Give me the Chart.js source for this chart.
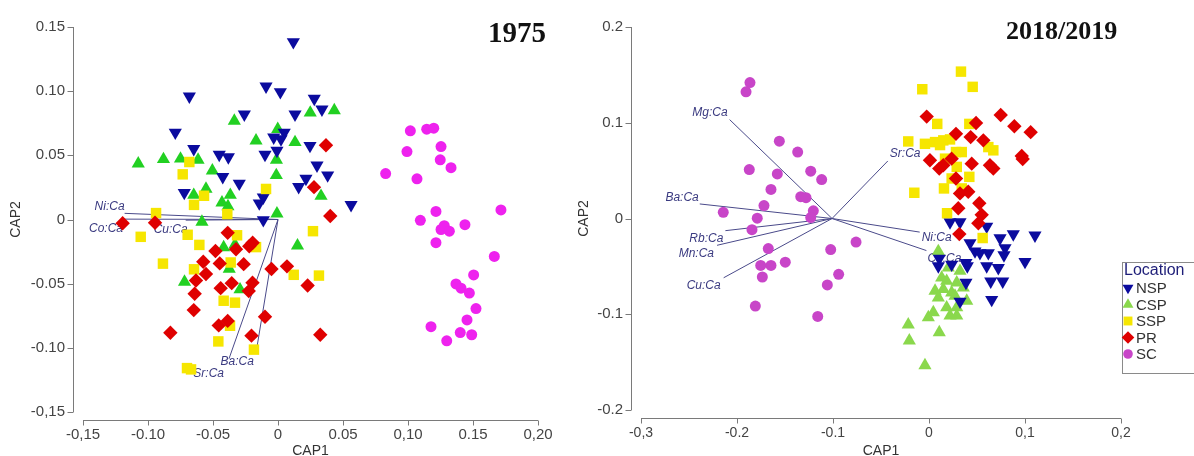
<!DOCTYPE html>
<html><head><meta charset="utf-8">
<script src="https://cdn.jsdelivr.net/npm/chart.js@4.4.1/dist/chart.umd.min.js"></script>
<style>
html,body{margin:0;padding:0;background:#fff;width:1194px;height:456px;overflow:hidden;position:relative;font-family:"Liberation Sans",Arial,sans-serif}
#c1{position:absolute;left:0;top:0}
#c2{position:absolute;left:570px;top:0}
.ttl{position:absolute;font-family:"Liberation Serif","Times New Roman",serif;font-weight:bold;color:#111;line-height:1;white-space:nowrap}
</style>
</head><body>
<canvas id="c1" width="570" height="456"></canvas>
<canvas id="c2" width="624" height="456"></canvas>
<div class="ttl" style="left:488px;top:18px;font-size:29px">1975</div>
<div class="ttl" style="left:1006px;top:18px;font-size:26px">2018/2019</div>
<script>
// ---------- DATA ----------
const seriesNames = ['NSP', 'CSP', 'SSP', 'PR', 'SC'];

const leftXTicks = [-0.15, -0.10, -0.05, 0, 0.05, 0.10, 0.15, 0.20];
const leftXTickLabels = ['-0,15', '-0.10', '-0.05', '0', '0.05', '0,10', '0.15', '0,20'];
const leftYTicks = [-0.15, -0.10, -0.05, 0, 0.05, 0.10, 0.15];
const leftYTickLabels = ['-0,15', '-0.10', '-0.05', '0', '0.05', '0.10', '0.15'];

const rightXTicks = [-0.3, -0.2, -0.1, 0, 0.1, 0.2];
const rightXTickLabels = ['-0,3', '-0.2', '-0.1', '0', '0,1', '0,2'];
const rightYTicks = [-0.2, -0.1, 0, 0.1, 0.2];
const rightYTickLabels = ['-0.2', '-0.1', '0', '0.1', '0.2'];

const leftNSP = [[0.0118,0.1383],[-0.0092,0.1037],[0.0018,0.0994],[-0.0682,0.0960],[0.0279,0.0942],[0.0338,0.0858],[-0.0259,0.0819],[0.0131,0.0819],[-0.0790,0.0678],[0.0048,0.0678],[-0.0033,0.0640],[0.0023,0.0627],[-0.0648,0.0550],[-0.0452,0.0506],[-0.0382,0.0486],[-0.0100,0.0506],[-0.0008,0.0537],[0.0246,0.0575],[0.0300,0.0422],[0.0382,0.0345],[0.0215,0.0319],[0.0159,0.0255],[-0.0425,0.0332],[-0.0298,0.0281],[-0.0721,0.0209],[-0.0144,0.0127],[-0.0113,0.0173],[0.0562,0.0114],[-0.0113,-0.0004]];
const leftCSP = [[0.0433,0.0850],[0.0248,0.0832],[-0.0336,0.0768],[-0.0002,0.0704],[-0.0169,0.0614],[0.0131,0.0602],[-0.0881,0.0469],[-0.0750,0.0473],[-0.0615,0.0465],[-0.1075,0.0435],[-0.0505,0.0381],[-0.0012,0.0465],[-0.0013,0.0345],[-0.0554,0.0238],[-0.0648,0.0191],[-0.0367,0.0191],[-0.0431,0.0131],[-0.0385,0.0102],[0.0331,0.0183],[-0.0008,0.0046],[-0.0585,-0.0019],[0.0150,-0.0204],[-0.0418,-0.0217],[-0.0331,-0.0196],[-0.0375,-0.0385],[-0.0719,-0.0486],[-0.0292,-0.0546]];
const leftSSP = [[-0.0682,0.0448],[-0.0733,0.0352],[-0.0569,0.0185],[-0.0646,0.0114],[-0.0092,0.0238],[-0.0938,0.0050],[-0.0390,0.0042],[-0.1056,-0.0135],[-0.0695,-0.0119],[-0.0605,-0.0198],[-0.0315,-0.0123],[-0.0169,-0.0215],[-0.0885,-0.0344],[-0.0646,-0.0388],[-0.0364,-0.0335],[-0.0418,-0.0633],[-0.0331,-0.0648],[-0.0369,-0.0828],[-0.0459,-0.0950],[-0.0185,-0.1014],[-0.0700,-0.1158],[-0.0669,-0.1168],[0.0121,-0.0431],[0.0315,-0.0437],[0.0269,-0.0091]];
const leftPR = [[-0.1195,-0.0029],[-0.0946,-0.0025],[-0.0387,-0.0104],[-0.0481,-0.0245],[-0.0323,-0.0232],[-0.0221,-0.0209],[-0.0195,-0.0181],[-0.0575,-0.0329],[-0.0448,-0.0342],[-0.0264,-0.0348],[-0.0554,-0.0425],[-0.0631,-0.0475],[-0.0050,-0.0386],[0.0069,-0.0365],[-0.0441,-0.0535],[-0.0356,-0.0496],[-0.0196,-0.0492],[-0.0225,-0.0558],[-0.0641,-0.0578],[-0.0648,-0.0706],[-0.0456,-0.0825],[-0.0387,-0.0790],[-0.0828,-0.0883],[-0.0100,-0.0758],[-0.0204,-0.0905],[0.0228,-0.0514],[0.0402,0.0027],[0.0325,-0.0898],[0.0277,0.0252],[0.0369,0.0579]];
const leftSC = [[0.1018,0.0691],[0.1144,0.0704],[0.1198,0.0712],[0.0992,0.0529],[0.1254,0.0568],[0.1248,0.0465],[0.1331,0.0404],[0.0828,0.0358],[0.1069,0.0317],[0.1215,0.0063],[0.1095,-0.0006],[0.1438,-0.0040],[0.1715,0.0075],[0.1254,-0.0078],[0.1279,-0.0048],[0.1318,-0.0091],[0.1215,-0.0181],[0.1664,-0.0288],[0.1505,-0.0432],[0.1369,-0.0502],[0.1408,-0.0535],[0.1472,-0.0573],[0.1523,-0.0694],[0.1454,-0.0783],[0.1177,-0.0835],[0.1402,-0.0881],[0.1490,-0.0898],[0.1298,-0.0945]];

const rightNSP = [[0.0219,-0.0038],[0.0323,-0.0038],[0.0601,-0.0083],[0.0878,-0.0163],[0.1104,-0.0176],[0.0740,-0.0204],[0.0792,-0.0308],[0.0427,-0.0256],[0.0479,-0.0342],[0.0531,-0.0360],[0.0618,-0.0360],[0.0781,-0.0383],[0.1000,-0.0451],[0.0107,-0.0418],[0.0097,-0.0497],[0.0236,-0.0480],[0.0385,-0.0463],[0.0399,-0.0497],[0.0601,-0.0497],[0.0722,-0.0515],[0.0385,-0.0670],[0.0643,-0.0656],[0.0768,-0.0656],[0.0323,-0.0867],[0.0653,-0.0848]];
const rightCSP = [[0.0097,-0.0342],[0.0201,-0.0515],[0.0132,-0.0619],[0.0184,-0.0653],[0.0149,-0.0739],[0.0289,-0.0670],[0.0357,-0.0722],[0.0063,-0.0756],[0.0097,-0.0826],[0.0236,-0.0774],[0.0393,-0.0860],[0.0184,-0.0930],[0.0289,-0.0930],[0.0045,-0.0981],[-0.0007,-0.1033],[0.0219,-0.1016],[0.0289,-0.1016],[-0.0216,-0.1109],[0.0107,-0.1189],[-0.0205,-0.1275],[-0.0042,-0.1534],[0.0323,-0.0549],[0.0271,-0.0808]];
const rightSSP = [[0.0333,0.1534],[0.0455,0.1375],[-0.0070,0.1350],[0.0086,0.0988],[0.0420,0.0988],[-0.0216,0.0805],[-0.0042,0.0780],[0.0063,0.0798],[0.0149,0.0816],[0.0219,0.0826],[0.0341,0.0694],[0.0618,0.0746],[0.0670,0.0712],[0.0167,0.0625],[0.0289,0.0539],[0.0420,0.0435],[0.0236,0.0418],[0.0156,0.0314],[0.0341,0.0314],[-0.0153,0.0269],[0.0188,0.0055],[0.0559,-0.0204],[0.0115,0.0767],[0.0281,0.0694]];
const rightPR = [[-0.0024,0.1064],[0.0747,0.1081],[0.0889,0.0964],[0.1059,0.0902],[0.0490,0.0998],[0.0281,0.0884],[0.0434,0.0850],[0.0566,0.0816],[0.0010,0.0608],[0.0236,0.0625],[0.0445,0.0573],[0.0107,0.0521],[0.0149,0.0556],[0.0635,0.0556],[0.0670,0.0521],[0.0966,0.0653],[0.0976,0.0622],[0.0281,0.0418],[0.0323,0.0262],[0.0409,0.0280],[0.0524,0.0159],[0.0305,0.0107],[0.0549,0.0038],[0.0514,-0.0049],[0.0316,-0.0163]];
const rightSC = [[-0.1865,0.1420],[-0.1906,0.1323],[-0.1559,0.0808],[-0.1368,0.0694],[-0.1872,0.0511],[-0.1580,0.0466],[-0.1232,0.0494],[-0.1118,0.0407],[-0.1646,0.0304],[-0.1336,0.0228],[-0.1281,0.0218],[-0.1719,0.0135],[-0.2143,0.0065],[-0.1789,0.0003],[-0.1205,0.0080],[-0.1232,0.0010],[-0.1844,-0.0117],[-0.0760,-0.0246],[-0.1674,-0.0314],[-0.1024,-0.0324],[-0.1753,-0.0490],[-0.1646,-0.0490],[-0.1497,-0.0456],[-0.1736,-0.0611],[-0.0941,-0.0583],[-0.1059,-0.0694],[-0.1809,-0.0915],[-0.1159,-0.1023]];

const leftVectorOrigin = [0, 0];
const leftVectorNames = ['Ni:Ca', 'Co:Ca', 'Cu:Ca', 'Ba:Ca', 'Sr:Ca'];
const leftVectorEnds = [[-0.118,0.0048],[-0.120,0.0003],[-0.071,-0.0005],[-0.017,-0.1045],[-0.0377,-0.1085]];

const rightVectorOrigin = [-0.101, 0];
const rightVectorNames = ['Mg:Ca', 'Ba:Ca', 'Rb:Ca', 'Mn:Ca', 'Cu:Ca', 'Sr:Ca', 'Ni:Ca', 'Co:Ca'];
const rightVectorEnds = [[-0.2077,0.1033],[-0.2388,0.0152],[-0.2121,-0.0127],[-0.2208,-0.0280],[-0.2139,-0.0619],[-0.0429,0.0601],[-0.0097,-0.0142],[-0.0027,-0.0335]];

// ---------- STYLE ----------
const leftLabelPlacement = [['right',0,-7],['right',1,10],['right',2,10],['right',-2,8],['right',-5,15]];
const rightLabelPlacement = [['right',-2,-7],['right',-1,-6],['right',-2,8],['right',-3,8],['right',-3,8],['left',2,-7],['left',2,6],['left',1,8]];

const styleNSP = {pointStyle:'triangle', rotation:180, radius:7.6, color:'#0b0b9e'};
const styleSSP = {pointStyle:'rect', rotation:0, radius:7.4, color:'#f6e600'};
const stylePR  = {pointStyle:'rectRot', rotation:0, radius:7.2, color:'#df0000'};
const leftStyleCSP  = {pointStyle:'triangle', rotation:0, radius:7.6, color:'#22d022'};
const rightStyleCSP = {pointStyle:'triangle', rotation:0, radius:7.6, color:'#8ad84c'};
const leftStyleSC  = {pointStyle:'circle', rotation:0, radius:5.5, color:'#ee22ee'};
const rightStyleSC = {pointStyle:'circle', rotation:0, radius:5.5, color:'#c845c8'};
const vectorColor = '#4a4a8a';
const vectorLabelColor = '#3a3a80';
const axisColor = '#7a7a7a';
const tickColor = '#444';
const FONT = '"Liberation Sans", Arial, sans-serif';

// draw order: higher "order" drawn first (underneath)
const drawOrder = {NSP:3, CSP:4, SSP:2, PR:1, SC:5};

function pts(a){ return a.map(p => ({x:p[0], y:p[1]})); }

function seriesDataset(name, data, st){
  return {
    label: name, data: pts(data), order: drawOrder[name],
    pointStyle: st.pointStyle, pointRotation: st.rotation, pointRadius: st.radius,
    pointHoverRadius: st.radius, pointBackgroundColor: st.color, pointBorderColor: st.color,
    pointBorderWidth: 0, showLine: false
  };
}

function vectorDatasets(origin, names, ends){
  return names.map((n, i) => ({
    label: n, data: pts([origin, ends[i]]), showLine: true, pointRadius: 0,
    borderColor: vectorColor, borderWidth: 1, order: 10, fill: false
  }));
}

function makePlugins(names, ends, placement, yGap, xGap){
  return [{
    id: 'offsetAxesAndLabels',
    beforeDatasetsDraw(chart){
      const {ctx, chartArea, scales:{x, y}} = chart;
      ctx.save();
      ctx.strokeStyle = axisColor; ctx.lineWidth = 1;
      ctx.beginPath();
      const ax = Math.round(chartArea.left - yGap) + 0.5;
      ctx.moveTo(ax, y.getPixelForValue(y.min)); ctx.lineTo(ax, y.getPixelForValue(y.max));
      y.ticks.forEach(t => { const py = Math.round(y.getPixelForValue(t.value)) + 0.5; ctx.moveTo(ax - 6, py); ctx.lineTo(ax, py); });
      const ay = Math.round(chartArea.bottom + xGap) + 0.5;
      ctx.moveTo(x.getPixelForValue(x.min), ay); ctx.lineTo(x.getPixelForValue(x.max), ay);
      x.ticks.forEach(t => { const px = Math.round(x.getPixelForValue(t.value)) + 0.5; ctx.moveTo(px, ay); ctx.lineTo(px, ay + 5); });
      ctx.stroke();
      // vector labels
      ctx.font = 'italic 12px ' + FONT;
      ctx.fillStyle = vectorLabelColor;
      ctx.textBaseline = 'middle';
      names.forEach((n, i) => {
        const pl = placement[i];
        ctx.textAlign = pl[0];
        ctx.fillText(n, x.getPixelForValue(ends[i][0]) + pl[1], y.getPixelForValue(ends[i][1]) + pl[2]);
      });
      ctx.restore();
    }
  }];
}

function scaleCfg(min, max, ticks, labels, fit, isX, fontSize, pad, titleText, titlePad){
  return {
    type: 'linear', min, max,
    afterFit: s => { if (isX) s.height = fit; else s.width = fit; },
    afterBuildTicks: s => { s.ticks = ticks.map(v => ({value: v})); },
    ticks: { callback: (v, i) => labels[i], padding: pad, color: tickColor, font: {family: FONT, size: fontSize}, maxRotation: 0, autoSkip: false },
    grid: { display: false, drawTicks: false },
    border: { display: false },
    title: { display: true, text: titleText, color: '#333', font: {family: FONT, size: 14, lineHeight: 1}, padding: titlePad }
  };
}

// ---------- LEFT (1975) ----------
new Chart(document.getElementById('c1'), {
  type: 'scatter',
  data: { datasets: [
    seriesDataset('NSP', leftNSP, styleNSP),
    seriesDataset('CSP', leftCSP, leftStyleCSP),
    seriesDataset('SSP', leftSSP, styleSSP),
    seriesDataset('PR', leftPR, stylePR),
    seriesDataset('SC', leftSC, leftStyleSC),
    ...vectorDatasets(leftVectorOrigin, leftVectorNames, leftVectorEnds)
  ]},
  options: {
    responsive: false, animation: false, devicePixelRatio: 1,
    layout: { padding: {left: 0, top: 22, right: 32, bottom: 0} },
    plugins: { legend: {display: false}, tooltip: {enabled: false} },
    scales: {
      x: scaleCfg(-0.15, 0.20, leftXTicks, leftXTickLabels, 44, true, 15, 14, 'CAP1', {top: 0, bottom: -2}),
      y: scaleCfg(-0.15, 0.15, leftYTicks, leftYTickLabels, 83, false, 15, 18, 'CAP2', {top: 9, bottom: 0})
    }
  },
  plugins: makePlugins(leftVectorNames, leftVectorEnds, leftLabelPlacement, 10, 8)
});

// ---------- RIGHT (2018/2019) ----------
const legendPlugin = {
  id: 'boxLegend',
  afterDraw(chart){
    const ctx = chart.ctx;
    const styles = [styleNSP, rightStyleCSP, styleSSP, stylePR, rightStyleSC];
    const bx = 552.5, by = 262.5, bw = 90, bh = 111;
    ctx.save();
    ctx.fillStyle = '#fff'; ctx.fillRect(bx, by, bw, bh);
    ctx.strokeStyle = '#8a8a8a'; ctx.lineWidth = 1; ctx.strokeRect(bx, by, bw, bh);
    ctx.textBaseline = 'middle'; ctx.textAlign = 'left';
    ctx.fillStyle = '#1e1e78'; ctx.font = '16px ' + FONT;
    ctx.fillText('Location', 554, 271);
    ctx.font = '15px ' + FONT;
    seriesNames.forEach((n, i) => {
      const cy = 288 + i * 16.5;
      const st = styles[i];
      ctx.fillStyle = st.color;
      const r = st.pointStyle === 'circle' ? 4.8 : 6.3;
      if (Chart.helpers && Chart.helpers.drawPoint) {
        Chart.helpers.drawPoint(ctx, {pointStyle: st.pointStyle, rotation: st.rotation, radius: r, borderWidth: 0}, 558, cy);
      } else {
        ctx.beginPath(); ctx.arc(558, cy, 5, 0, Math.PI * 2); ctx.fill();
      }
      ctx.fillStyle = '#333';
      ctx.fillText(n, 566, cy + 1);
    });
    ctx.restore();
  }
};

new Chart(document.getElementById('c2'), {
  type: 'scatter',
  data: { datasets: [
    seriesDataset('NSP', rightNSP, styleNSP),
    seriesDataset('CSP', rightCSP, rightStyleCSP),
    seriesDataset('SSP', rightSSP, styleSSP),
    seriesDataset('PR', rightPR, stylePR),
    seriesDataset('SC', rightSC, rightStyleSC),
    ...vectorDatasets(rightVectorOrigin, rightVectorNames, rightVectorEnds)
  ]},
  options: {
    responsive: false, animation: false, devicePixelRatio: 1,
    layout: { padding: {left: 0, top: 24, right: 73, bottom: 0} },
    plugins: { legend: {display: false}, tooltip: {enabled: false} },
    scales: {
      x: scaleCfg(-0.3, 0.2, rightXTicks, rightXTickLabels, 46, true, 14, 15, 'CAP1', {top: 0, bottom: -2}),
      y: scaleCfg(-0.2, 0.2, rightYTicks, rightYTickLabels, 71, false, 15, 18, 'CAP2', {top: 7, bottom: 0})
    }
  },
  plugins: [...makePlugins(rightVectorNames, rightVectorEnds, rightLabelPlacement, 10, 8), legendPlugin]
});
</script>
</body></html>
